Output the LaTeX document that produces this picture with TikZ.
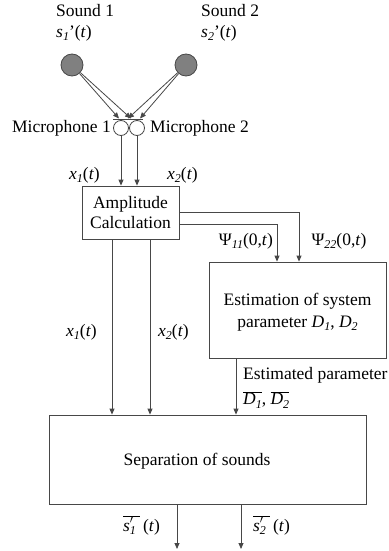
\documentclass[tikz,border=0pt]{standalone}
\usepackage{fontspec}
\setmainfont{Liberation Serif}
\usetikzlibrary{arrows.meta}
\newcommand{\sbs}[1]{\raisebox{-0.45ex}{\fontsize{12}{12}\selectfont\itshape #1}}
\newcommand{\prm}{\rlap{\raisebox{0.9ex}{\fontsize{12}{12}\selectfont $\prime$}}}
\begin{document}
\begin{tikzpicture}[x=1pt,y=-1pt,
  font=\fontsize{17.5}{21}\selectfont,
  ln/.style={draw=black!72, line width=0.8pt},
  arr/.style={ln, -{Triangle[length=6pt,width=5pt]}},
  boxn/.style={ln, rectangle, inner sep=0pt, align=center},
  src/.style={ln, circle, fill=black!50, minimum size=22pt, inner sep=0pt},
  mic/.style={ln, circle, fill=white, minimum size=15pt, inner sep=0pt},
  lbl/.style={inner sep=0pt}]
\useasboundingbox (0,0) rectangle (388,551);

% sources
\node[lbl, anchor=west, align=left] (l1) at (56,22.5) {Sound 1\\[0pt]\textit{s}\sbs{1}’(\textit{t})};
\node[lbl, anchor=west, align=left] (l2) at (201,22.5) {Sound 2\\[0pt]\textit{s}\sbs{2}’(\textit{t})};
\node[src] (s1) at (72,65) {};
\node[src] (s2) at (186,65) {};

% microphones
\node[mic] (m1) at (121,128) {};
\node[mic] (m2) at (137,128) {};
\node[lbl, anchor=east] (lm1) at (111,128) {Microphone 1};
\node[lbl, anchor=west] (lm2) at (150,128) {Microphone 2};
\coordinate (b1) at (113,119.5);
\coordinate (b2) at (143,119.5);
\draw[ln, line width=0.6pt] (b1) -- (b2);
\coordinate (t11) at (119,118.5);
\coordinate (t12) at (131,118.5);
\coordinate (t21) at (128,118.5);
\coordinate (t22) at (140,118.5);
\draw[arr] (s1) -- (t11);
\draw[arr] (s1) -- (t12);
\draw[arr] (s2) -- (t21);
\draw[arr] (s2) -- (t22);

% amplitude calculation
\node[boxn, minimum width=97pt, minimum height=53pt] (amp) at (130.5,212.5) {Amplitude\\[-1pt]Calculation};
\draw[arr] (m1.south) -- (m1.south |- amp.north);
\draw[arr] (m2.south) -- (m2.south |- amp.north);
\node[lbl] (x1a) at (84.5,175) {\textit{x}\sbs{1}(\textit{t})};
\node[lbl] (x2a) at (182.5,175) {\textit{x}\sbs{2}(\textit{t})};

% estimation
\node[boxn, minimum width=177pt, minimum height=96pt, text depth=-6pt] (est) at (297.5,310) {Estimation of system\\[1pt]parameter \textit{D}\sbs{1}, \textit{D}\sbs{2}};
\draw[arr] ([yshift=0.5pt]amp.east) -| ([xshift=1.5pt]est.north);
\draw[arr] ([yshift=-11.5pt]amp.east) -| ([xshift=-20.5pt]est.north);
\node[lbl] (p11) at (246,241) {Ψ\sbs{11}(0,\textit{t})};
\node[lbl] (p22) at (339,241) {Ψ\sbs{22}(0,\textit{t})};

% separation
\node[boxn, minimum width=317pt, minimum height=89pt, label={[xshift=-10.5pt,yshift=-1.5pt]center:Separation of sounds}] (sep) at (207.5,459.5) {};
\draw[arr] ([xshift=-18.5pt]amp.south) -- ([xshift=-18.5pt]amp.south |- sep.north);
\draw[arr] ([xshift=19.5pt]amp.south) -- ([xshift=19.5pt]amp.south |- sep.north);
\node[lbl] (x1b) at (81.5,332) {\textit{x}\sbs{1}(\textit{t})};
\node[lbl] (x2b) at (173.5,332) {\textit{x}\sbs{2}(\textit{t})};
\draw[arr] ([xshift=-61.5pt]est.south) -- ([xshift=-61.5pt]est.south |- sep.north);
\node[lbl, anchor=west] (ep) at (243,375) {Estimated parameter};
\node[lbl, anchor=west] (dd) at (243,400) {$\overline{\hbox{\itshape D\sbs{1}}}$, $\overline{\hbox{\itshape D\sbs{2}}}$};

% outputs
\coordinate (o1) at (177,549);
\coordinate (o2) at (241,549);
\draw[arr] ([xshift=-30.5pt]sep.south) -- (o1);
\draw[arr] ([xshift=33.5pt]sep.south) -- (o2);
\node[lbl] (y1) at (141.5,525) {$\overline{\hbox{\itshape s\prm\sbs{1}\ }}$\,(\textit{t})};
\node[lbl] (y2) at (271.5,525) {$\overline{\hbox{\itshape s\prm\sbs{2}\ }}$\,(\textit{t})};
\end{tikzpicture}
\end{document}
